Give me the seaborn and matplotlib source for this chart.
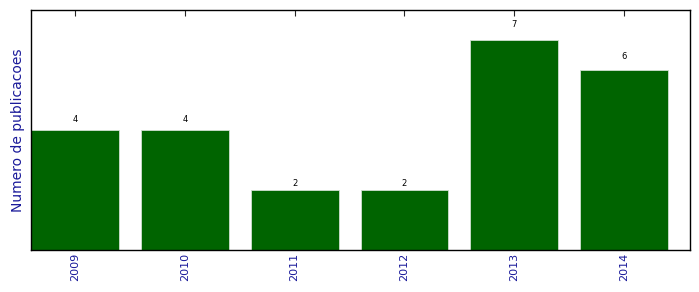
import matplotlib
matplotlib.use("Agg")
import matplotlib.pyplot as plt
import seaborn as sns
import pandas as pd

years = ["2009", "2010", "2011", "2012", "2013", "2014"]
counts = [4, 4, 2, 2, 7, 6]

df = pd.DataFrame({"ano": years, "n": counts})

sns.set_style("white")
plt.rcParams['font.family'] = ['DejaVu Sans']

fig = plt.figure(figsize=(6.99, 2.92), dpi=100)
ax = fig.add_axes([31/699, 1 - 250/292, (690 - 31)/699, 240/292])

sns.barplot(data=df, x="ano", y="n", color="#006400", saturation=1,
            width=0.8, edgecolor="#d0e0d0", linewidth=0.6, ax=ax)

for i, v in enumerate(counts):
    ax.text(i, v * 1.055 + 0.12, str(v), ha="center", va="center", fontsize=6, color="black")

ax.set_xlim(-0.4, 5.6)
ax.set_ylim(0, 8)
ax.set_yticks([])
ax.set_xlabel("")
ax.set_ylabel("Numero de publicacoes", fontsize=10, color="#1a1a9a")
ax.tick_params(axis="x", direction="in", top=True, bottom=True, length=4,
               width=0.8, labelsize=8, labelcolor="#1a1a9a", labelrotation=90, pad=2)
for s in ax.spines.values():
    s.set_visible(True)
    s.set_color("black")
    s.set_linewidth(1)

fig.savefig("out.png", dpi=100)
